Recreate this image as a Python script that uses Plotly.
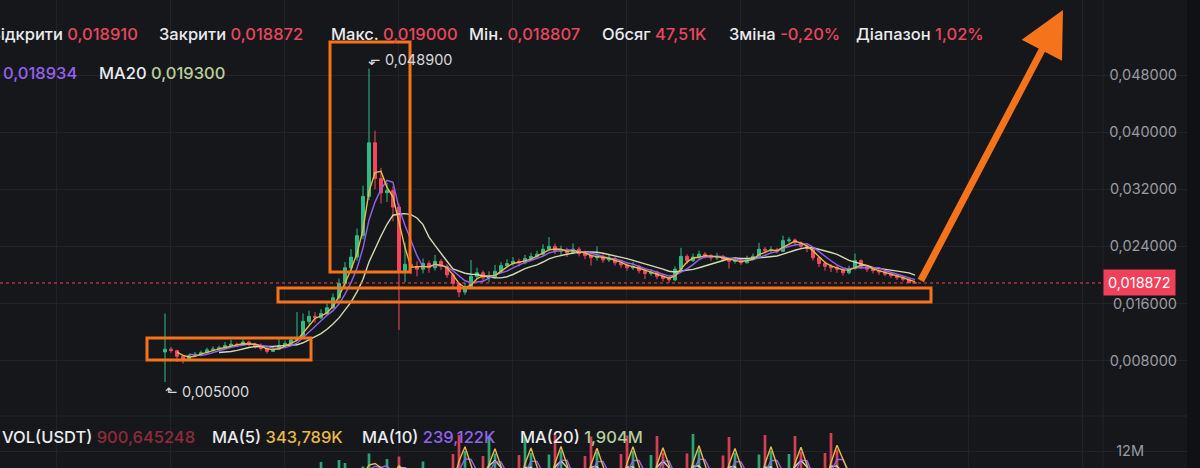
import plotly.graph_objects as go
import pandas as pd

# ---------------- data (price in thousandths of USDT, volume in millions) ----------------
open_k = [9.2, 9.6, 9.4, 8.6, 8.2, 8.7, 8.9, 9.1, 9.5, 9.6,
          9.8, 10.1, 10.3, 10.2, 10.6, 10.3, 10.0, 9.7, 9.3, 9.6,
          10.1, 10.4, 10.9, 11.2, 13.5, 14.2, 14.0, 14.6, 15.4, 16.8,
          18.8, 21.0, 22.5, 25.5, 31.0, 38.5, 33.5, 31.5, 31.8, 29.5,
          20.5, 21.5, 21.2, 20.8, 21.6, 21.0, 21.9, 21.2, 20.0, 18.8,
          17.6, 18.3, 19.8, 20.3, 19.6, 19.7, 20.5, 21.3, 21.6, 21.9,
          21.7, 22.3, 22.6, 22.9, 23.6, 24.0, 23.3, 23.5, 23.1, 23.6,
          23.0, 22.7, 22.4, 22.6, 22.1, 22.3, 21.7, 21.4, 21.0, 21.2,
          20.6, 20.2, 20.4, 19.8, 19.5, 19.3, 20.8, 22.6, 22.0, 22.5,
          22.9, 22.7, 22.4, 22.6, 22.2, 21.9, 22.0, 21.7, 22.3, 22.6,
          23.6, 23.4, 23.5, 23.3, 24.8, 24.9, 24.5, 24.0, 23.7, 22.4,
          21.6, 21.2, 21.0, 20.8, 20.3, 20.9, 22.0, 21.2, 20.8, 20.6,
          20.4, 20.1, 19.9, 19.6, 19.4, 18.91]
close_k = [9.6, 9.4, 8.6, 8.2, 8.7, 8.9, 9.1, 9.5, 9.6, 9.8,
           10.1, 10.3, 10.2, 10.6, 10.3, 10.0, 9.7, 9.3, 9.6, 10.1,
           10.4, 10.9, 11.2, 13.5, 14.2, 14.0, 14.6, 15.4, 16.8, 18.8,
           21.0, 22.5, 25.5, 31.0, 38.5, 33.5, 31.5, 31.8, 29.5, 20.5,
           21.5, 21.2, 20.8, 21.6, 21.0, 21.9, 21.2, 20.0, 18.8, 17.6,
           18.3, 19.8, 20.3, 19.6, 19.7, 20.5, 21.3, 21.6, 21.9, 21.7,
           22.3, 22.6, 22.9, 23.6, 24.0, 23.3, 23.5, 23.1, 23.6, 23.0,
           22.7, 22.4, 22.6, 22.1, 22.3, 21.7, 21.4, 21.0, 21.2, 20.6,
           20.2, 20.4, 19.8, 19.5, 19.3, 20.8, 22.6, 22.0, 22.5, 22.9,
           22.7, 22.4, 22.6, 22.2, 21.9, 22.0, 21.7, 22.3, 22.6, 23.6,
           23.4, 23.5, 23.3, 24.8, 24.9, 24.5, 24.0, 23.7, 22.4, 21.6,
           21.2, 21.0, 20.8, 20.3, 20.9, 22.0, 21.2, 20.8, 20.6, 20.4,
           20.1, 19.9, 19.6, 19.4, 18.91, 18.872]
high_k = [14.6, 9.9, 9.5, 8.8, 8.9, 9.2, 9.4, 9.8, 10.0, 10.1,
          10.6, 10.9, 10.5, 11.0, 10.8, 10.5, 10.4, 9.9, 10.0, 11.0,
          10.8, 11.3, 14.8, 14.6, 15.0, 14.8, 15.2, 16.0, 17.4, 19.5,
          21.8, 23.6, 26.5, 32.5, 48.9, 40.2, 35.0, 32.9, 32.4, 30.0,
          24.5, 22.6, 21.9, 22.3, 22.0, 22.8, 22.2, 21.5, 20.3, 19.0,
          18.9, 22.1, 21.0, 20.6, 20.5, 21.4, 21.8, 22.2, 22.5, 22.3,
          22.8, 23.1, 23.4, 24.3, 25.3, 24.4, 24.1, 23.8, 24.4, 23.9,
          23.4, 23.1, 24.0, 22.9, 22.8, 22.5, 22.0, 21.7, 21.8, 21.4,
          20.9, 20.8, 20.6, 20.0, 19.8, 21.2, 23.8, 22.9, 23.0, 23.4,
          23.2, 22.9, 23.1, 22.8, 22.4, 22.4, 22.2, 22.7, 23.0, 24.5,
          23.9, 24.0, 23.8, 25.5, 25.3, 25.1, 24.7, 24.2, 23.9, 22.6,
          21.9, 21.5, 21.3, 21.0, 21.3, 23.0, 22.2, 21.4, 21.0, 20.8,
          20.6, 20.3, 20.1, 19.8, 19.5, 19.0]
low_k = [5.0, 9.1, 7.8, 7.6, 8.0, 8.5, 8.8, 9.0, 9.3, 9.4,
         9.7, 10.0, 9.9, 10.1, 10.0, 9.7, 9.4, 9.0, 9.2, 9.5,
         10.0, 10.2, 10.8, 11.0, 13.1, 13.3, 13.8, 14.4, 15.2, 16.5,
         18.2, 20.4, 22.0, 25.0, 30.5, 32.0, 30.0, 30.2, 27.5, 12.3,
         19.0, 20.1, 19.8, 20.2, 20.3, 20.6, 20.7, 19.6, 18.2, 16.9,
         17.2, 18.0, 19.4, 19.1, 19.0, 19.5, 20.2, 21.0, 21.3, 21.2,
         21.5, 22.0, 22.3, 22.6, 23.3, 22.9, 22.8, 22.5, 22.9, 22.6,
         22.2, 21.3, 22.0, 21.7, 21.8, 21.3, 21.0, 20.6, 20.7, 20.2,
         19.4, 19.9, 19.4, 19.1, 18.9, 19.1, 20.5, 21.5, 21.8, 22.3,
         22.3, 22.0, 22.1, 21.9, 20.9, 21.6, 21.4, 21.6, 22.1, 22.4,
         23.0, 23.1, 23.0, 23.2, 24.5, 24.2, 23.7, 23.2, 22.0, 21.1,
         20.6, 20.4, 20.3, 19.9, 20.1, 20.7, 20.8, 20.4, 20.2, 20.0,
         19.8, 19.6, 19.3, 19.1, 18.85, 18.807]
volume_m = [6.0, 2.1, 1.8, 1.5, 1.2, 1.0, 1.1, 1.3, 0.9, 1.0,
            1.4, 1.2, 0.8, 1.1, 0.9, 0.8, 1.0, 1.2, 0.9, 1.5,
            1.1, 1.6, 4.5, 5.2, 3.1, 2.4, 9.8, 3.5, 4.8, 10.2,
            9.6, 5.5, 7.2, 8.9, 11.5, 8.1, 6.3, 10.4, 5.8, 10.9,
            7.5, 4.2, 3.6, 9.9, 3.0, 2.8, 2.5, 3.2, 11.4, 15.2,
            12.0, 2.6, 2.2, 11.0, 14.8, 11.5, 2.0, 1.9, 2.1, 11.2,
            15.0, 11.6, 1.8, 2.0, 11.3, 15.3, 12.1, 1.9, 2.2, 1.8,
            11.0, 14.9, 11.8, 2.0, 1.7, 2.1, 11.4, 15.1, 12.0, 1.9,
            1.8, 11.2, 15.0, 11.7, 2.2, 2.0, 2.4, 11.5, 15.4, 12.2,
            1.9, 1.7, 2.0, 11.1, 14.8, 11.6, 1.8, 2.1, 1.9, 11.3,
            15.2, 12.0, 2.0, 2.3, 11.4, 15.0, 11.9, 1.9, 2.1, 1.8,
            11.6, 15.6, 12.3, 1.7, 1.6, 2.4, 1.5, 1.3, 1.2, 1.1,
            1.0, 0.9, 1.0, 0.8, 0.9, 0.9]

price_ticks_k = [8, 16, 24, 32, 40, 48]
price_tick_text = ["0,008000", "0,016000", "0,024000", "0,032000", "0,040000", "0,048000"]
vol_ticks_m = [12]
vol_tick_text = ["12M"]
last_price_k = 18.872
last_price_text = "0,018872"

header_row1 = [("Відкрити", "0,018910"), ("Закрити", "0,018872"), ("Макс.", "0,019000"),
               ("Мін.", "0,018807"), ("Обсяг", "47,51K"), ("Зміна", "-0,20%"), ("Діапазон", "1,02%")]
header_row2 = [("MA10", "0,018934"), ("MA20", "0,019300")]
vol_row = [("VOL(USDT)", "900,645248"), ("MA(5)", "343,789K"), ("MA(10)", "239,122K"), ("MA(20)", "1,904M")]
high_label = "0,048900"
low_label = "0,005000"

# ---------------- styling ----------------
W, H = 1200, 468
BG = "#16171b"
GRID = "#222328"
UP = "#2ebd85"
DOWN = "#f6465d"
ORANGE = "#f5731a"
RED_TXT = "#e8475f"
LABEL = "#eaecef"
AXIS_TXT = "#9a9ca1"
C_MA5 = "#e9b949"
C_MA10 = "#9462f0"
C_MA20 = "#d3dbb0"
FONT = "Inter"

PLOT_RIGHT = 1187
SEP_X = 1103
X0_PX, STEP_PX = 165, 6


def px(x):
    return x / W


def py(y):
    return 1 - y / H


n = len(close_k)
idx = list(range(n))
closes = pd.Series(close_k)
ma_fast = closes.rolling(3).mean()
ma_mid = closes.rolling(5).mean()
ma_slow = closes.rolling(10).mean()
vols = pd.Series(volume_m)
vma_fast = vols.rolling(3).mean()
vma_mid = vols.rolling(4).mean()
vma_slow = vols.rolling(8).mean()

vol_colors = [UP if c >= o else DOWN for o, c in zip(open_k, close_k)]

fig = go.Figure()
fig.add_trace(go.Candlestick(
    x=idx, open=open_k, high=high_k, low=low_k, close=close_k,
    increasing=dict(line=dict(color=UP, width=1), fillcolor=UP),
    decreasing=dict(line=dict(color=DOWN, width=1), fillcolor=DOWN),
    whiskerwidth=0, xaxis="x", yaxis="y", hoverinfo="skip"))
for s, col in [(ma_slow, C_MA20), (ma_mid, C_MA10), (ma_fast, C_MA5)]:
    fig.add_trace(go.Scatter(x=idx, y=s, mode="lines", line=dict(color=col, width=1.4),
                             xaxis="x", yaxis="y", hoverinfo="skip"))

fig.add_trace(go.Bar(x=idx, y=volume_m, marker=dict(color=vol_colors, line=dict(width=0)),
                     width=0.45, xaxis="x2", yaxis="y2", hoverinfo="skip", opacity=0.85))
for s, col in [(vma_slow, C_MA20), (vma_mid, C_MA10), (vma_fast, C_MA5)]:
    fig.add_trace(go.Scatter(x=idx, y=s, mode="lines", line=dict(color=col, width=1.4),
                             xaxis="x2", yaxis="y2", hoverinfo="skip"))

x_left = -X0_PX / STEP_PX
x_right = (PLOT_RIGHT - X0_PX) / STEP_PX
price_top = 48 + 75 / 7.14
price_bot = 48 - (418 - 75) / 7.14

xaxis_common = dict(range=[x_left, x_right], showticklabels=False, showgrid=True, gridcolor=GRID,
                    gridwidth=1, tick0=(170 - X0_PX) / STEP_PX, dtick=114 / STEP_PX, zeroline=False,
                    showline=False, ticks="", fixedrange=True)

fig.update_layout(
    width=W, height=H, margin=dict(l=0, r=0, t=0, b=0),
    paper_bgcolor=BG, plot_bgcolor=BG, showlegend=False,
    font=dict(family=FONT, color=LABEL),
    xaxis=dict(domain=[0, px(PLOT_RIGHT)], anchor="y", rangeslider=dict(visible=False), **xaxis_common),
    xaxis2=dict(domain=[0, px(PLOT_RIGHT)], anchor="y2", matches="x", **xaxis_common),
    yaxis=dict(domain=[py(418), 1], side="right", anchor="x", range=[price_bot, price_top],
               tickvals=price_ticks_k, ticktext=price_tick_text, ticklabelposition="inside",
               ticklabelstandoff=7, showgrid=True, gridcolor=GRID, zeroline=False,
               tickfont=dict(size=14.5, color=AXIS_TXT, family=FONT), fixedrange=True),
    yaxis2=dict(domain=[0, py(418)], side="right", anchor="x2", range=[8.6, 18.6],
                tickvals=vol_ticks_m, ticktext=vol_tick_text, ticklabelposition="inside",
                ticklabelstandoff=40, showgrid=True, gridcolor=GRID, zeroline=False,
                tickfont=dict(size=14.5, color=AXIS_TXT, family=FONT), fixedrange=True),
)

shapes = []
shapes.append(dict(type="rect", xref="paper", yref="paper", x0=px(PLOT_RIGHT), x1=1, y0=0, y1=1,
                   fillcolor="#101114", line=dict(width=0), layer="below"))
shapes.append(dict(type="line", xref="paper", yref="paper", x0=px(SEP_X), x1=px(SEP_X), y0=0, y1=1,
                   line=dict(color=GRID, width=1), layer="below"))
shapes.append(dict(type="line", xref="paper", yref="paper", x0=0, x1=px(PLOT_RIGHT), y0=py(416), y1=py(416),
                   line=dict(color=GRID, width=1), layer="below"))
shapes.append(dict(type="line", xref="paper", yref="y", x0=0, x1=px(SEP_X), y0=last_price_k, y1=last_price_k,
                   line=dict(color="#f0405a", width=1, dash="dot")))
for (x0, y0, x1, y1) in [(147, 338, 311, 360), (330, 42, 410, 272), (278, 288, 931, 302)]:
    shapes.append(dict(type="rect", xref="paper", yref="paper", x0=px(x0), x1=px(x1), y0=py(y1), y1=py(y0),
                       line=dict(color=ORANGE, width=3), fillcolor="rgba(0,0,0,0)"))
fig.update_layout(shapes=shapes)

ann = []


def pair(label, value, x, y, vcolor, size=16.5):
    ann.append(dict(xref="paper", yref="paper", x=px(x), y=py(y), xanchor="left", yanchor="middle",
                    showarrow=False, font=dict(size=size, color=LABEL, family=FONT, weight=500),
                    text=f"{label} <span style='color:{vcolor}'>{value}</span>"))


row1_x = [-12, 157, 329, 467, 600, 727, 854]
for (lab, val), x in zip(header_row1, row1_x):
    pair(lab, val, x, 34, RED_TXT)
row2_x = [-47, 97]
row2_c = [C_MA10, "#bccf9c"]
for (lab, val), x, c in zip(header_row2, row2_x, row2_c):
    pair(lab, val, x, 73, c)
vol_x = [0, 210, 360, 518]
vol_c = ["#8e2b3d", C_MA5, C_MA10, "#b5cf9c"]
for (lab, val), x, c in zip(vol_row, vol_x, vol_c):
    pair(lab, val, x, 437, c)

ann.append(dict(xref="x", yref="paper", x=34 - 0.5, y=py(60), xanchor="left", yanchor="middle", showarrow=False,
                text="⬐ " + high_label, font=dict(size=14.5, color="#d8d9dc", family=FONT)))
ann.append(dict(xref="x", yref="paper", x=-0.3, y=py(391), xanchor="left", yanchor="middle", showarrow=False,
                text="⬑ " + low_label, font=dict(size=14.5, color="#d8d9dc", family=FONT)))

ann.append(dict(xref="paper", yref="y", x=px(SEP_X), y=last_price_k, xanchor="left", yanchor="middle",
                showarrow=False, text=last_price_text, bgcolor="#f0405a", borderpad=4,
                font=dict(size=14.5, color="#ffffff", family=FONT)))

ann.append(dict(xref="paper", yref="paper", x=px(1063), y=py(10), ax=920 - 1063, ay=282 - 10,
                axref="pixel", ayref="pixel", text="", showarrow=True, arrowcolor=ORANGE,
                arrowwidth=7, arrowhead=2, arrowsize=1.3, standoff=0))

fig.update_layout(annotations=ann)
fig.write_html("out.html")
